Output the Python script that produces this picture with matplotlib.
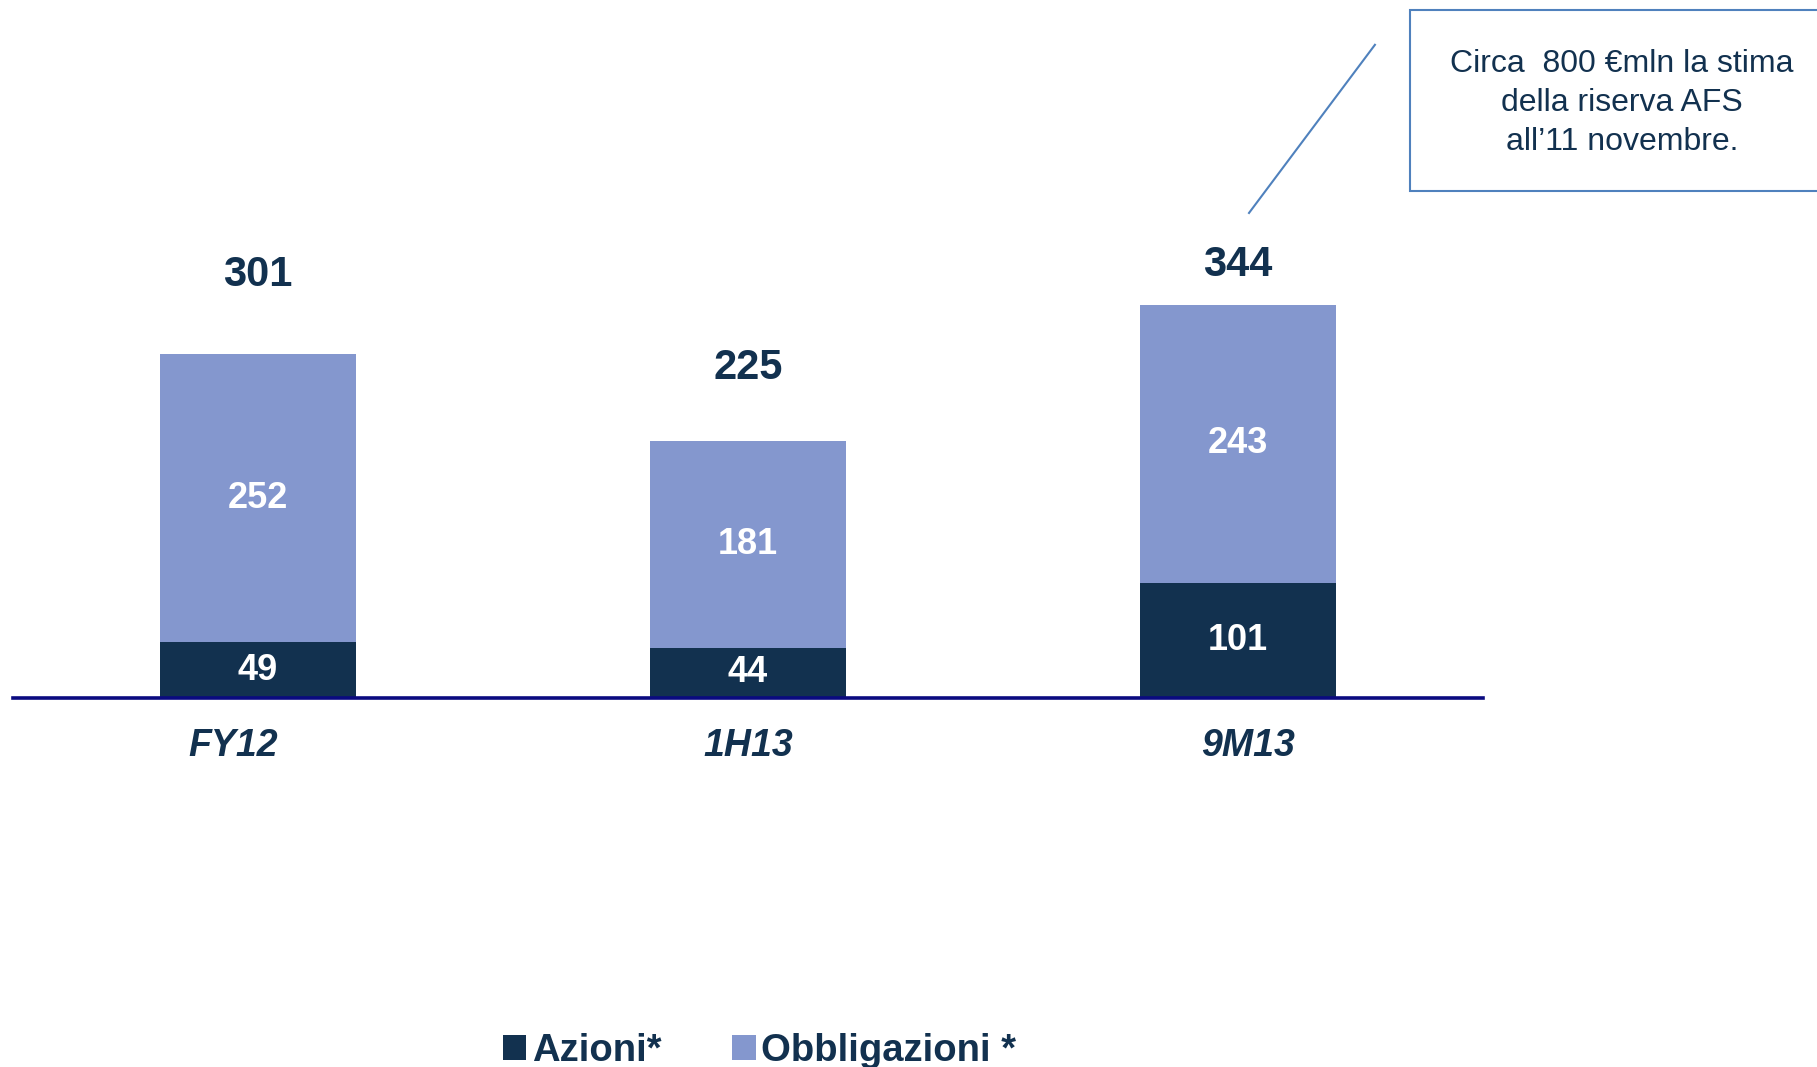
import matplotlib.pyplot as plt
from matplotlib.patches import Rectangle
from matplotlib.lines import Line2D

plt.rcParams['font.family'] = ['Liberation Sans', 'DejaVu Sans']

categories = ['FY12', '1H13', '9M13']
azioni = [49, 44, 101]
obbligazioni = [252, 181, 243]
totals = [301, 225, 344]
series_labels = ['Azioni*', 'Obbligazioni *']
note = 'Circa  800 €mln la stima\ndella riserva AFS\nall\u201911 novembre.'

dark = '#12314f'
light = '#8497ce'
navy_line = '#0a0a80'
callout = '#4f81bd'

# where the labels sit (hand placed in the original slide)
total_offsets = [69, 64, 35]
cat_shift = [-0.05, 0.0, 0.02]

fig = plt.figure(figsize=(18.17, 10.67), dpi=100)
ax = fig.add_axes([0.00715, 0.3458, 0.809, 0.6542])
ax.set_xlim(-0.5, 2.5)
ax.set_ylim(0, 611)
ax.axis('off')

x = list(range(len(categories)))
b1 = ax.bar(x, azioni, width=0.4, color=dark, label=series_labels[0])
b2 = ax.bar(x, obbligazioni, width=0.4, bottom=azioni, color=light, label=series_labels[1])
ax.axhline(0, color=navy_line, lw=2.6, zorder=5, clip_on=False)

for i in x:
    ax.text(i, azioni[i] / 2, str(azioni[i]), ha='center', va='center',
            color='white', fontsize=26, fontweight='bold')
    ax.text(i, azioni[i] + obbligazioni[i] / 2, str(obbligazioni[i]), ha='center', va='center',
            color='white', fontsize=26, fontweight='bold')
    ax.text(i, totals[i] + total_offsets[i], str(totals[i]), ha='center', va='center',
            color=dark, fontsize=30, fontweight='bold')
    ax.text(i + cat_shift[i], -42, categories[i], ha='center', va='center',
            color=dark, fontsize=27, fontweight='bold', style='italic', clip_on=False)

# callout box + pointer line
fig.patches.append(Rectangle((0.776, 0.821), 0.3, 0.170, transform=fig.transFigure,
                             facecolor='white', edgecolor=callout, lw=1.5))
fig.lines.append(Line2D([0.7567, 0.6874], [0.958, 0.8004], transform=fig.transFigure,
                        color=callout, lw=1.5))
fig.text(0.8927, 0.9035, note, ha='center', va='center', color=dark,
         fontsize=23, linespacing=1.38)

leg = fig.legend(handles=[b1, b2], loc='center', bbox_to_anchor=(0.418, 0.015),
                 ncol=2, frameon=False, labelcolor=dark,
                 handlelength=0.62, handleheight=0.62, handletextpad=0.15,
                 columnspacing=1.85, prop={'weight': 'bold', 'size': 27.5})

fig.savefig('out.png', dpi=100)
